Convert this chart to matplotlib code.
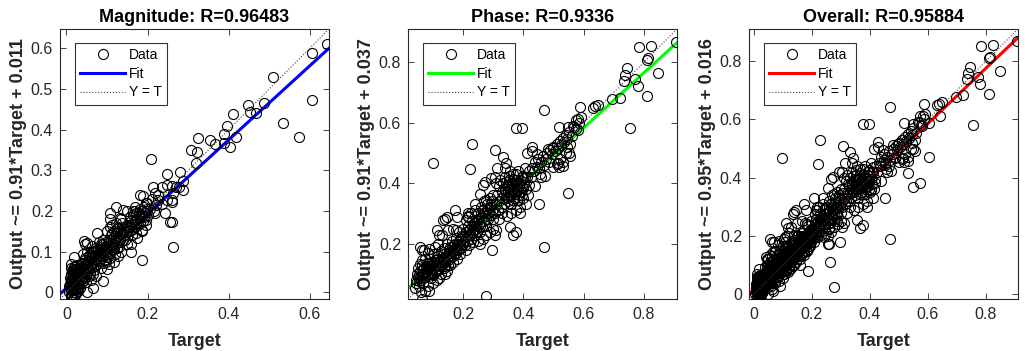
import numpy as np
import matplotlib
matplotlib.use("Agg")
import matplotlib.pyplot as plt
from matplotlib.ticker import FuncFormatter

plt.rcParams['font.family'] = ['Liberation Sans', 'DejaVu Sans']

# ---------------- data (target, output) ----------------
magnitude_points = np.array([
    (0.641, 0.611), (0.604, 0.589), (0.604, 0.472), (0.572, 0.383), (0.533, 0.416),
    (0.509, 0.530), (0.488, 0.466), (0.466, 0.441), (0.453, 0.443), (0.448, 0.461),
    (0.411, 0.438), (0.419, 0.383), (0.403, 0.357), (0.395, 0.408), (0.389, 0.388),
    (0.387, 0.367), (0.367, 0.365), (0.354, 0.375), (0.324, 0.380), (0.322, 0.346),
    (0.308, 0.349), (0.318, 0.319), (0.208, 0.329), (0.280, 0.296), (0.247, 0.291),
    (0.286, 0.274), (0.286, 0.252), (0.269, 0.260), (0.261, 0.262), (0.247, 0.264),
    (0.236, 0.260), (0.214, 0.258), (0.217, 0.245), (0.225, 0.227), (0.247, 0.227),
    (0.261, 0.227), (0.262, 0.244), (0.277, 0.259), (0.182, 0.240), (0.188, 0.236),
    (0.196, 0.219), (0.236, 0.218), (0.242, 0.195), (0.219, 0.195), (0.261, 0.223),
    (0.259, 0.174), (0.255, 0.174), (0.263, 0.112), (0.186, 0.080), (0.158, 0.099),
    (0.168, 0.211), (0.172, 0.195), (0.168, 0.178), (0.180, 0.186), (0.196, 0.178),
    (0.186, 0.154), (0.160, 0.154), (0.156, 0.186), (0.140, 0.203), (0.121, 0.209),
    (0.131, 0.182), (0.123, 0.170), (0.107, 0.195), (0.107, 0.162), (0.113, 0.145),
    (0.131, 0.129), (0.140, 0.145), (0.148, 0.162), (0.115, 0.112), (0.091, 0.129),
    (0.083, 0.112), (0.075, 0.145), (0.066, 0.096), (0.079, 0.125), (0.101, 0.057),
    (0.091, 0.028), (0.107, 0.096), (0.097, 0.076), (0.050, 0.121), (0.044, 0.127),
    (0.065, 0.010), (0.050, 0.002), (0.019, 0.088), (0.034, 0.055), (0.050, 0.063),
    (0.066, 0.063), (0.058, 0.047), (0.042, 0.030),
    (0.010, -0.012), (0.012, -0.005), (0.015, 0.002), (0.008, 0.010), (0.013, 0.018),
    (0.018, 0.025), (0.010, 0.030), (0.020, 0.040), (0.015, 0.048), (0.022, 0.055),
    (0.012, 0.060), (0.025, 0.010), (0.028, 0.020), (0.020, 0.005), (0.030, 0.032),
    (0.018, -0.010), (0.024, -0.002), (0.016, 0.035), (0.011, 0.042), (0.027, 0.045),
    (0.032, 0.050), (0.035, 0.040), (0.030, 0.015), (0.022, 0.028), (0.014, 0.012),
    (0.009, 0.022), (0.019, 0.062), (0.026, 0.068), (0.033, 0.060), (0.038, 0.025),
    (0.040, 0.055), (0.036, 0.070), (0.021, 0.018), (0.017, -0.015), (0.013, 0.052),
    (0.029, 0.003), (0.042, 0.035), (0.045, 0.065), (0.048, 0.045), (0.050, 0.075),
    (0.012, 0.070),
    (0.045, 0.080), (0.052, 0.070), (0.055, 0.090), (0.060, 0.060), (0.058, 0.085),
    (0.062, 0.100), (0.065, 0.075), (0.068, 0.055), (0.070, 0.090), (0.072, 0.110),
    (0.075, 0.070), (0.078, 0.095), (0.080, 0.080), (0.082, 0.105), (0.085, 0.120),
    (0.088, 0.090), (0.090, 0.072), (0.055, 0.040), (0.060, 0.030), (0.048, 0.025),
    (0.066, 0.045), (0.072, 0.040), (0.050, 0.100), (0.045, 0.120), (0.040, 0.095),
    (0.063, 0.115), (0.085, 0.060), (0.092, 0.110), (0.095, 0.095), (0.098, 0.125),
    (0.100, 0.100), (0.102, 0.115), (0.105, 0.130), (0.108, 0.085), (0.110, 0.140),
    (0.112, 0.105), (0.115, 0.120), (0.118, 0.150), (0.120, 0.095), (0.122, 0.135),
    (0.125, 0.110), (0.128, 0.160), (0.130, 0.125), (0.132, 0.145), (0.135, 0.100),
    (0.138, 0.170), (0.140, 0.130), (0.142, 0.150), (0.145, 0.140), (0.148, 0.120),
    (0.150, 0.165), (0.105, 0.070), (0.100, 0.150), (0.095, 0.080), (0.118, 0.075),
    (0.125, 0.155), (0.135, 0.180), (0.113, 0.165), (0.107, 0.180), (0.128, 0.090),
    (0.155, 0.150), (0.158, 0.175), (0.162, 0.140), (0.165, 0.190), (0.168, 0.160),
    (0.170, 0.200), (0.172, 0.145), (0.175, 0.180), (0.178, 0.195), (0.180, 0.170),
    (0.182, 0.205), (0.185, 0.190), (0.188, 0.175), (0.190, 0.210), (0.192, 0.185),
    (0.195, 0.200), (0.198, 0.220), (0.200, 0.190), (0.205, 0.205), (0.210, 0.230),
    (0.215, 0.200), (0.220, 0.215), (0.225, 0.240), (0.160, 0.120), (0.175, 0.135),
    (0.185, 0.150), (0.195, 0.165), (0.163, 0.200), (0.150, 0.200),
    (0.006, 0.000), (0.007, 0.015), (0.009, 0.035), (0.011, 0.005), (0.011, 0.025),
    (0.012, 0.045), (0.013, -0.008), (0.014, 0.030), (0.015, 0.058), (0.016, 0.008),
    (0.016, 0.020), (0.017, 0.043), (0.018, 0.052), (0.019, 0.012), (0.020, 0.030),
    (0.021, 0.065), (0.022, -0.005), (0.023, 0.038), (0.024, 0.048), (0.025, 0.022),
    (0.026, 0.058), (0.027, 0.030), (0.028, 0.008), (0.029, 0.052), (0.031, 0.042),
    (0.032, 0.022), (0.033, 0.010), (0.034, 0.065), (0.036, 0.048), (0.037, 0.035),
    (0.039, 0.060), (0.041, 0.072), (0.043, 0.050), (0.044, 0.040), (0.046, 0.085),
    (0.047, 0.058), (0.049, 0.068), (0.052, 0.055), (0.054, 0.078), (0.057, 0.065),
    (0.059, 0.095), (0.061, 0.072), (0.064, 0.088), (0.067, 0.080), (0.069, 0.102),
    (0.071, 0.065), (0.074, 0.085), (0.077, 0.108), (0.079, 0.078), (0.081, 0.092),
    (0.084, 0.098), (0.087, 0.108), (0.089, 0.118), (0.093, 0.100), (0.097, 0.112),
    (0.099, 0.088), (0.103, 0.122), (0.106, 0.110), (0.109, 0.128), (0.111, 0.118),
    (0.114, 0.135), (0.117, 0.108), (0.119, 0.128), (0.121, 0.145), (0.124, 0.125),
    (0.127, 0.138), (0.129, 0.112), (0.133, 0.132), (0.137, 0.145), (0.139, 0.155),
    (0.143, 0.128), (0.146, 0.158), (0.149, 0.148), (0.153, 0.162), (0.157, 0.160),
    (0.161, 0.168), (0.166, 0.172), (0.171, 0.180), (0.176, 0.165), (0.181, 0.190),
    (0.187, 0.200), (0.193, 0.195), (0.199, 0.205),
])

phase_points = np.array([
    (0.908, 0.868), (0.825, 0.855), (0.784, 0.850), (0.814, 0.814), (0.811, 0.809),
    (0.847, 0.765), (0.745, 0.781), (0.739, 0.759), (0.733, 0.737), (0.771, 0.745),
    (0.780, 0.723), (0.809, 0.687), (0.721, 0.682), (0.695, 0.678), (0.754, 0.582),
    (0.638, 0.654), (0.648, 0.659), (0.631, 0.648), (0.588, 0.652), (0.582, 0.613),
    (0.574, 0.610), (0.580, 0.576), (0.569, 0.587), (0.470, 0.643), (0.376, 0.584),
    (0.396, 0.584), (0.228, 0.530), (0.099, 0.468), (0.222, 0.447), (0.307, 0.510),
    (0.332, 0.488), (0.343, 0.466), (0.313, 0.449), (0.272, 0.403), (0.265, 0.395),
    (0.294, 0.418), (0.470, 0.189), (0.549, 0.368), (0.453, 0.330), (0.437, 0.390),
    (0.472, 0.424), (0.451, 0.449), (0.428, 0.521), (0.413, 0.499), (0.428, 0.507),
    (0.519, 0.587), (0.549, 0.585), (0.481, 0.512), (0.497, 0.516), (0.519, 0.455),
    (0.530, 0.457), (0.514, 0.466), (0.550, 0.499), (0.376, 0.239), (0.365, 0.228),
    (0.357, 0.255), (0.297, 0.180), (0.275, 0.026), (0.062, 0.017), (0.087, 0.045),
    (0.057, 0.189), (0.062, 0.180), (0.087, 0.183), (0.112, 0.244), (0.119, 0.228),
    (0.134, 0.277), (0.139, 0.283), (0.145, 0.289), (0.172, 0.311), (0.180, 0.289),
    (0.217, 0.289), (0.217, 0.300), (0.239, 0.311), (0.255, 0.363), (0.277, 0.344),
    (0.178, 0.244), (0.211, 0.277), (0.057, 0.134),
    (0.040, 0.055), (0.045, 0.070), (0.050, 0.090), (0.055, 0.060), (0.058, 0.110),
    (0.060, 0.080), (0.062, 0.130), (0.065, 0.100), (0.068, 0.070), (0.070, 0.120),
    (0.072, 0.150), (0.075, 0.090), (0.078, 0.110), (0.080, 0.135), (0.082, 0.060),
    (0.085, 0.100), (0.088, 0.125), (0.090, 0.150), (0.092, 0.085), (0.095, 0.115),
    (0.098, 0.140), (0.100, 0.095), (0.102, 0.165), (0.105, 0.125), (0.108, 0.110),
    (0.110, 0.145), (0.112, 0.080), (0.115, 0.130), (0.118, 0.160), (0.120, 0.115),
    (0.122, 0.140), (0.125, 0.100), (0.128, 0.175), (0.130, 0.130), (0.132, 0.150),
    (0.135, 0.120), (0.138, 0.185), (0.140, 0.140), (0.142, 0.160), (0.145, 0.110),
    (0.148, 0.200), (0.150, 0.145), (0.152, 0.170), (0.155, 0.130), (0.158, 0.190),
    (0.160, 0.155), (0.162, 0.210), (0.165, 0.175), (0.168, 0.140), (0.170, 0.195),
    (0.172, 0.165), (0.175, 0.220), (0.178, 0.180), (0.180, 0.150), (0.182, 0.200),
    (0.185, 0.240), (0.188, 0.185), (0.190, 0.165), (0.192, 0.215), (0.195, 0.195),
    (0.198, 0.250), (0.060, 0.040), (0.075, 0.045), (0.100, 0.070), (0.120, 0.085),
    (0.140, 0.100), (0.050, 0.120), (0.065, 0.145), (0.085, 0.170), (0.105, 0.190),
    (0.115, 0.200), (0.130, 0.230), (0.150, 0.245), (0.165, 0.250), (0.070, 0.180),
    (0.200, 0.200), (0.205, 0.225), (0.208, 0.180), (0.210, 0.240), (0.212, 0.210),
    (0.215, 0.260), (0.218, 0.195), (0.220, 0.230), (0.222, 0.250), (0.225, 0.215),
    (0.228, 0.275), (0.230, 0.240), (0.232, 0.205), (0.235, 0.260), (0.238, 0.290),
    (0.240, 0.230), (0.242, 0.250), (0.245, 0.275), (0.248, 0.210), (0.250, 0.300),
    (0.252, 0.265), (0.255, 0.240), (0.258, 0.285), (0.260, 0.320), (0.262, 0.255),
    (0.265, 0.300), (0.268, 0.275), (0.270, 0.340), (0.272, 0.290), (0.275, 0.260),
    (0.278, 0.310), (0.280, 0.330), (0.282, 0.280), (0.285, 0.300), (0.288, 0.350),
    (0.290, 0.320), (0.292, 0.295), (0.295, 0.340), (0.298, 0.310), (0.300, 0.280),
    (0.255, 0.200), (0.265, 0.215), (0.275, 0.230), (0.290, 0.240), (0.300, 0.250),
    (0.310, 0.245), (0.305, 0.230), (0.215, 0.290), (0.225, 0.300), (0.240, 0.330),
    (0.305, 0.300), (0.310, 0.330), (0.312, 0.360), (0.315, 0.310), (0.318, 0.390),
    (0.320, 0.340), (0.322, 0.410), (0.325, 0.320), (0.328, 0.370), (0.330, 0.350),
    (0.332, 0.400), (0.335, 0.330), (0.338, 0.380), (0.340, 0.420), (0.342, 0.355),
    (0.345, 0.390), (0.348, 0.340), (0.350, 0.370), (0.352, 0.410), (0.355, 0.360),
    (0.358, 0.395), (0.360, 0.330), (0.362, 0.375), (0.365, 0.430), (0.368, 0.350),
    (0.370, 0.390), (0.372, 0.365), (0.375, 0.410), (0.378, 0.345), (0.380, 0.380),
    (0.382, 0.440), (0.385, 0.360), (0.388, 0.400), (0.390, 0.320), (0.392, 0.370),
    (0.395, 0.420), (0.398, 0.385), (0.400, 0.350), (0.402, 0.405), (0.405, 0.450),
    (0.408, 0.380), (0.410, 0.330), (0.412, 0.420), (0.415, 0.360), (0.418, 0.395),
    (0.420, 0.440), (0.330, 0.300), (0.345, 0.290), (0.360, 0.300), (0.375, 0.310),
    (0.390, 0.300), (0.340, 0.450), (0.355, 0.440), (0.320, 0.280), (0.300, 0.360),
    (0.310, 0.400), (0.305, 0.420),
    (0.425, 0.420), (0.430, 0.450), (0.435, 0.440), (0.440, 0.470), (0.445, 0.455),
    (0.450, 0.480), (0.455, 0.430), (0.460, 0.470), (0.465, 0.490), (0.470, 0.460),
    (0.475, 0.480), (0.480, 0.500), (0.485, 0.470), (0.490, 0.510), (0.495, 0.495),
    (0.500, 0.520), (0.505, 0.505), (0.510, 0.530), (0.515, 0.515), (0.520, 0.540),
    (0.525, 0.525), (0.530, 0.550), (0.535, 0.535), (0.540, 0.560), (0.545, 0.545),
    (0.550, 0.570), (0.555, 0.530), (0.560, 0.555), (0.565, 0.590), (0.575, 0.580),
    (0.585, 0.600), (0.590, 0.620), (0.500, 0.455), (0.510, 0.465), (0.520, 0.480),
    (0.530, 0.470), (0.540, 0.500), (0.555, 0.490), (0.545, 0.520), (0.460, 0.420),
    (0.445, 0.495),
    (0.043, 0.080), (0.047, 0.100), (0.052, 0.075), (0.054, 0.095), (0.057, 0.085),
    (0.063, 0.090), (0.066, 0.115), (0.069, 0.095), (0.073, 0.105), (0.076, 0.125),
    (0.079, 0.095), (0.083, 0.115), (0.086, 0.135), (0.089, 0.105), (0.093, 0.125),
    (0.096, 0.100), (0.099, 0.120), (0.103, 0.140), (0.106, 0.105), (0.109, 0.130),
    (0.113, 0.150), (0.116, 0.115), (0.119, 0.140), (0.123, 0.125), (0.126, 0.150),
    (0.129, 0.140), (0.133, 0.165), (0.136, 0.145), (0.139, 0.125), (0.143, 0.170),
    (0.146, 0.150), (0.149, 0.130), (0.153, 0.180), (0.156, 0.160), (0.159, 0.175),
    (0.163, 0.190), (0.166, 0.160), (0.169, 0.180), (0.173, 0.200), (0.176, 0.170),
    (0.179, 0.195), (0.183, 0.180), (0.186, 0.210), (0.189, 0.200), (0.193, 0.185),
    (0.196, 0.225), (0.203, 0.210), (0.207, 0.195), (0.213, 0.225), (0.219, 0.245),
    (0.224, 0.230), (0.229, 0.255), (0.233, 0.240), (0.237, 0.270), (0.243, 0.260),
    (0.247, 0.240), (0.253, 0.280), (0.257, 0.260), (0.263, 0.285), (0.267, 0.310),
    (0.273, 0.300), (0.277, 0.280), (0.283, 0.315), (0.287, 0.300), (0.293, 0.330),
    (0.335, 0.360), (0.340, 0.375), (0.345, 0.350), (0.350, 0.395), (0.355, 0.380),
    (0.358, 0.365), (0.362, 0.400), (0.366, 0.385), (0.370, 0.370), (0.374, 0.395),
    (0.378, 0.375), (0.382, 0.405), (0.386, 0.390), (0.390, 0.410), (0.394, 0.390),
    (0.398, 0.425), (0.403, 0.395), (0.407, 0.420), (0.343, 0.405), (0.353, 0.425),
    (0.367, 0.415), (0.377, 0.430), (0.396, 0.360), (0.386, 0.345), (0.365, 0.345),
])

overall_points = np.vstack([magnitude_points, phase_points])

panel_titles = ["Magnitude: R=0.96483", "Phase: R=0.9336", "Overall: R=0.95884"]
fit_slopes = [0.91, 0.91, 0.95]
fit_intercepts = [0.011, 0.037, 0.016]
fit_colors = ["#0000ff", "#00ff00", "#ff0000"]
ylabels = ["Output ~= 0.91*Target + 0.011",
           "Output ~= 0.91*Target + 0.037",
           "Output ~= 0.95*Target + 0.016"]
xticks_list = [[0, 0.2, 0.4, 0.6], [0.2, 0.4, 0.6, 0.8], [0, 0.2, 0.4, 0.6, 0.8]]
yticks_list = [[0, 0.1, 0.2, 0.3, 0.4, 0.5, 0.6], [0.2, 0.4, 0.6, 0.8], [0, 0.2, 0.4, 0.6, 0.8]]
limits = [(-0.016, 0.647), (0.017, 0.910), (-0.016, 0.910)]

# ---------------- figure ----------------
W, H = 1025, 351
fig = plt.figure(figsize=(W / 100, H / 100), dpi=100)
axis_color = "#262626"
lefts = [60, 408, 749]
ax_w, ax_top, ax_bot = 269, 29, 299

fmt = FuncFormatter(lambda v, p: ("%g" % round(v, 3)))

for i, pts in enumerate([magnitude_points, phase_points, overall_points]):
    ax = fig.add_axes([lefts[i] / W, (H - ax_bot) / H, ax_w / W, (ax_bot - ax_top) / H])
    lo, hi = limits[i]
    line_x = np.array([lo, hi])
    ax.plot(pts[:, 0], pts[:, 1], 'o', mfc='none', mec='black', ms=7.2, mew=0.8,
            label='Data', zorder=3)
    ax.plot(line_x, fit_slopes[i] * line_x + fit_intercepts[i], '-', color=fit_colors[i],
            lw=2.2, label='Fit', zorder=2)
    ax.plot(line_x, line_x, ':', color='#444444', lw=0.8, label='Y = T', zorder=4)
    ax.set_xlim(lo, hi)
    ax.set_ylim(lo, hi)
    ax.set_xticks(xticks_list[i])
    ax.set_yticks(yticks_list[i])
    ax.xaxis.set_major_formatter(fmt)
    ax.yaxis.set_major_formatter(fmt)
    ax.tick_params(direction='in', length=4, width=0.6, colors=axis_color,
                   labelsize=11.5, top=True, right=True)
    ax.tick_params(axis='x', pad=6)
    ax.tick_params(axis='y', pad=5)
    for s in ax.spines.values():
        s.set_color(axis_color)
        s.set_linewidth(0.8)
    ax.set_title(panel_titles[i], fontsize=13, fontweight='bold', pad=5)
    ax.set_xlabel("Target", fontsize=13, fontweight='bold', color=axis_color, labelpad=8)
    ax.set_ylabel(ylabels[i], fontsize=13, fontweight='bold', color=axis_color, labelpad=3)
    leg = ax.legend(loc='upper left', bbox_to_anchor=(0.056, 0.948), borderaxespad=0,
                    fontsize=10, fancybox=False, framealpha=1, edgecolor='#333333',
                    handlelength=3.2, handletextpad=0.3, labelspacing=0.33,
                    borderpad=0.38, markerscale=1.0)
    leg.get_frame().set_linewidth(0.8)
    leg.set_zorder(10)

fig.savefig("out.png", dpi=100)
